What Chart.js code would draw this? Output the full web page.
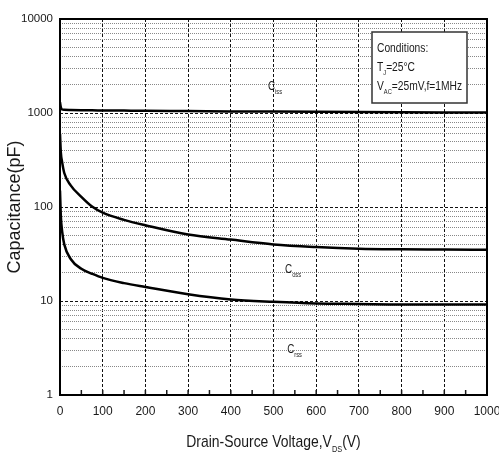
<!DOCTYPE html>
<html>
<head>
<meta charset="utf-8">
<script src="https://cdn.jsdelivr.net/npm/chart.js@4.4.1/dist/chart.umd.min.js"></script>
<style>
  html,body{margin:0;padding:0;background:#fff}
  #wrap{width:499px;height:457px}
</style>
</head>
<body>
<div id="wrap"><canvas id="capChart" width="499" height="457"></canvas></div>
<script>
// Drain-source voltage (V)
const VDS  = [0, 2, 5, 10, 25, 50, 75, 100, 150, 200, 300, 400, 500, 600, 700, 800, 900, 1000];
// Capacitances (pF)
const CISS = [1300, 1150, 1090, 1080, 1075, 1070, 1068, 1065, 1060, 1055, 1048, 1040, 1035, 1030, 1025, 1020, 1015, 1010];
const COSS = [600, 380, 300, 230, 170, 128, 101, 87, 73, 64, 51, 45, 40, 37.5, 36, 35.5, 35.3, 35];
const CRSS = [150, 80, 55, 40, 28, 22, 19.5, 17.6, 15.5, 14.1, 11.8, 10.4, 9.8, 9.4, 9.3, 9.2, 9.2, 9.2];

// axis ticks
const X_TICKS   = [0, 100, 200, 300, 400, 500, 600, 700, 800, 900, 1000];
const X_MINOR   = [50, 150, 250, 350, 450, 550, 650, 750, 850, 950];
const Y_DECADES = [1, 10, 100, 1000, 10000];

// texts
const SERIES_SUBS = ['iss', 'oss', 'rss'];
const COND_LINES  = [[['Conditions:', 0]], [['T', 0], ['J', 1], ['=25°C', 0]], [['V', 0], ['AC', 1], ['=25mV,f=1MHz', 0]]];
const X_TITLE     = [['Drain-Source Voltage,V', 0], ['DS', 1], ['(V)', 0]];
const Y_TITLE     = 'Capacitance(pF)';

const FAM = "Arial, 'Liberation Sans', sans-serif";
const INK = '#1a1a1a';
const SQUEEZE = 0.82; // the scanned sheet uses a narrow face

// where the C labels sit (data coords: V, pF at baseline)
const LABEL_AT = [[487, 1750], [527, 19.8], [532, 2.8]];

function isDecade(v){ return Y_DECADES.includes(v); }

// text with subscripts, squeezed horizontally
function drawRich(ctx, parts, x, y, size, align){
  const big = size + 'px ' + FAM, small = Math.round(size * 0.55) + 'px ' + FAM;
  let w = 0;
  parts.forEach(([t, s]) => { ctx.font = s ? small : big; w += ctx.measureText(t).width; });
  w *= SQUEEZE;
  const x0 = align === 'center' ? x - w / 2 : x;
  ctx.save();
  ctx.translate(x0, y);
  ctx.scale(SQUEEZE, 1);
  ctx.textAlign = 'left'; ctx.textBaseline = 'alphabetic';
  let cx = 0;
  parts.forEach(([t, s]) => {
    ctx.font = s ? small : big;
    ctx.fillText(t, cx, s ? size * 0.32 : 0);
    cx += ctx.measureText(t).width;
  });
  ctx.restore();
}

const sheetDecor = {
  id: 'sheetDecor',
  afterDraw(chart){
    const {ctx, chartArea: a, scales: {x, y}} = chart;
    ctx.save();
    // small ticks along the bottom
    ctx.strokeStyle = INK; ctx.lineWidth = 1.5;
    X_MINOR.concat(X_TICKS).forEach(v => {
      const px = x.getPixelForValue(v);
      ctx.beginPath(); ctx.moveTo(px, a.bottom); ctx.lineTo(px, a.bottom - 5); ctx.stroke();
    });
    // frame
    ctx.lineWidth = 2; ctx.strokeStyle = '#000';
    ctx.strokeRect(a.left, a.top, a.right - a.left, a.bottom - a.top);

    // curve names
    ctx.fillStyle = INK;
    SERIES_SUBS.forEach((s, i) => {
      const [v, c] = LABEL_AT[i];
      drawRich(ctx, [['C', 0], [s, 1]], x.getPixelForValue(v), y.getPixelForValue(c), 12, 'left');
    });

    // conditions box
    const bw = 95, bh = 71, bx = a.right - 20 - bw, by = a.top + 13;
    ctx.fillStyle = '#fff'; ctx.fillRect(bx, by, bw, bh);
    ctx.strokeStyle = '#333'; ctx.lineWidth = 1.5; ctx.strokeRect(bx, by, bw, bh);
    ctx.fillStyle = INK;
    COND_LINES.forEach((ln, i) => drawRich(ctx, ln, bx + 5, by + 20 + i * 19, 12.5, 'left'));

    // x title with subscript
    drawRich(ctx, X_TITLE, (a.left + a.right) / 2, a.bottom + 52, 17, 'center');
    ctx.restore();
  }
};

const mk = arr => VDS.map((v, i) => ({x: v, y: arr[i]}));
const lineStyle = {borderColor: '#000', borderWidth: 2.5, pointRadius: 0, fill: false, cubicInterpolationMode: 'monotone'};

new Chart(document.getElementById('capChart'), {
  type: 'line',
  data: {
    datasets: [
      {label: 'Ciss', data: mk(CISS), ...lineStyle},
      {label: 'Coss', data: mk(COSS), ...lineStyle},
      {label: 'Crss', data: mk(CRSS), ...lineStyle}
    ]
  },
  options: {
    responsive: false,
    animation: false,
    layout: {padding: {top: 19, right: 12, left: 0, bottom: 0}},
    plugins: {legend: {display: false}, tooltip: {enabled: false}},
    scales: {
      x: {
        type: 'linear', min: 0, max: 1000,
        afterBuildTicks: s => { s.ticks = X_TICKS.map(v => ({value: v})); },
        afterFit: s => { s.height = 62; s.paddingLeft = 0; s.paddingRight = 0; },
        ticks: {autoSkip: false, maxRotation: 0, padding: 9, color: INK, font: {family: FAM, size: 12},
                callback: v => String(v)},
        grid: {drawTicks: false, color: '#111', lineWidth: 1},
        border: {display: false, dash: [3, 2]}
      },
      y: {
        type: 'logarithmic', min: 1, max: 10000,
        afterBuildTicks: s => {
          const t = [];
          Y_DECADES.forEach(d => { for (let k = 1; k < 10; k++) { if (d * k <= 10000) t.push({value: d * k}); } });
          s.ticks = t;
        },
        afterFit: s => { s.width = 60; s.paddingTop = 0; s.paddingBottom = 0; },
        ticks: {autoSkip: false, padding: 7, color: INK, font: {family: FAM, size: 11.5},
                callback: v => isDecade(v) ? String(v) : ''},
        grid: {drawTicks: false, lineWidth: 1,
               color: c => (c.tick && isDecade(c.tick.value)) ? '#111' : '#888'},
        border: {display: false,
                 dash: c => (c.tick && isDecade(c.tick.value)) ? [3, 2] : [1, 1]},
        title: {display: true, text: Y_TITLE, color: INK, padding: {top: 4, bottom: 0},
                font: {family: FAM, size: 18}}
      }
    }
  },
  plugins: [sheetDecor]
});
</script>
</body>
</html>
